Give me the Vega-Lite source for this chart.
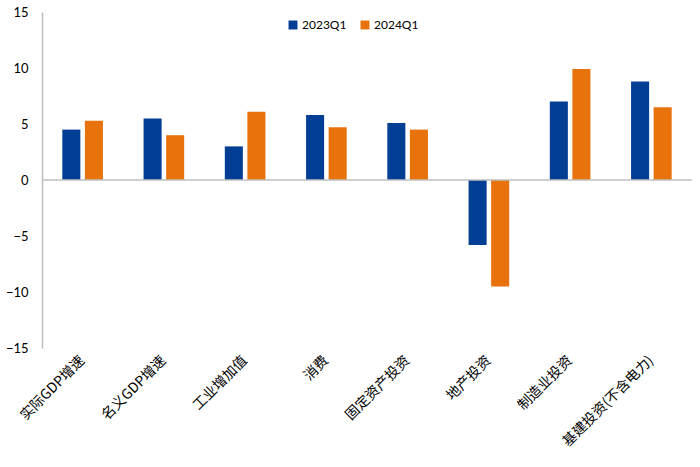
{
  "$schema": "https://vega.github.io/schema/vega-lite/v6.json",
  "width": 650,
  "height": 336,
  "autosize": {"type": "none"},
  "padding": {"left": 42, "top": 12, "right": 8, "bottom": 119},
  "background": "white",
  "config": {"view": {"stroke": null}},
  "data": {
    "values": [
      {"cat": "实际GDP增速", "series": "2023Q1", "value": 4.5},
      {"cat": "实际GDP增速", "series": "2024Q1", "value": 5.3},
      {"cat": "名义GDP增速", "series": "2023Q1", "value": 5.5},
      {"cat": "名义GDP增速", "series": "2024Q1", "value": 4.0},
      {"cat": "工业增加值", "series": "2023Q1", "value": 3.0},
      {"cat": "工业增加值", "series": "2024Q1", "value": 6.1},
      {"cat": "消费", "series": "2023Q1", "value": 5.8},
      {"cat": "消费", "series": "2024Q1", "value": 4.7},
      {"cat": "固定资产投资", "series": "2023Q1", "value": 5.1},
      {"cat": "固定资产投资", "series": "2024Q1", "value": 4.5},
      {"cat": "地产投资", "series": "2023Q1", "value": -5.8},
      {"cat": "地产投资", "series": "2024Q1", "value": -9.5},
      {"cat": "制造业投资", "series": "2023Q1", "value": 7.0},
      {"cat": "制造业投资", "series": "2024Q1", "value": 9.9},
      {"cat": "基建投资(不含电力)", "series": "2023Q1", "value": 8.8},
      {"cat": "基建投资(不含电力)", "series": "2024Q1", "value": 6.5}
    ]
  },
  "layer": [
    {
      "mark": {"type": "bar"},
      "encoding": {
        "x": {
          "field": "cat",
          "type": "nominal",
          "sort": null,
          "scale": {"paddingInner": 0.5, "paddingOuter": 0.25},
          "axis": {
            "title": null,
            "orient": "bottom",
            "domain": false,
            "ticks": false,
            "labelAngle": -45,
            "labelAlign": "right",
            "labelBaseline": "middle",
            "labelPadding": 10,
            "labelFont": "Noto Sans CJK SC",
            "labelFontSize": 14,
            "labelColor": "#000000"
          }
        },
        "xOffset": {
          "field": "series",
          "type": "nominal",
          "scale": {"paddingInner": 0.2}
        },
        "y": {
          "field": "value",
          "type": "quantitative",
          "scale": {"domain": [-15, 15], "nice": false},
          "axis": {
            "title": null,
            "values": [-15, -10, -5, 0, 5, 10, 15],
            "grid": false,
            "ticks": false,
            "domain": true,
            "domainColor": "#BFBFBF",
            "domainWidth": 1.5,
            "labelPadding": 14,
            "labelFont": "Lato",
            "labelFontSize": 13,
            "labelColor": "#000000"
          }
        },
        "color": {
          "field": "series",
          "type": "nominal",
          "scale": {"domain": ["2023Q1", "2024Q1"], "range": ["#033E95", "#E8720C"]},
          "legend": {
            "title": null,
            "orient": "none",
            "direction": "horizontal",
            "legendX": 245,
            "legendY": 7,
            "symbolType": "square",
            "symbolSize": 80,
            "symbolStrokeWidth": 0,
            "labelFont": "Lato",
            "labelFontSize": 12,
            "labelColor": "#000000",
            "labelOffset": 3,
            "columnPadding": 12
          }
        }
      }
    },
    {
      "data": {"values": [{"zero": 0}]},
      "mark": {"type": "rule", "color": "#BFBFBF", "strokeWidth": 1.5},
      "encoding": {
        "y": {"field": "zero", "type": "quantitative"}
      }
    }
  ]
}
